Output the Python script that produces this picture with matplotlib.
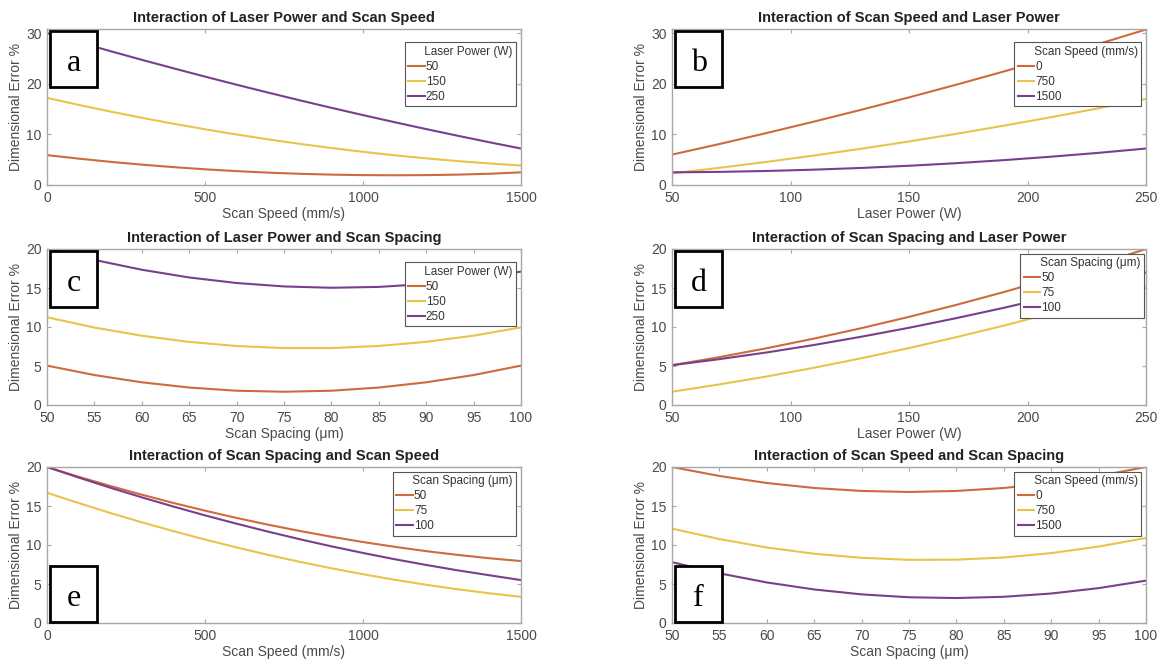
import matplotlib
matplotlib.use('Agg')
import matplotlib.pyplot as plt
from matplotlib.patches import Rectangle

plt.rcParams['font.family'] = ['Liberation Sans', 'DejaVu Sans']

# =========================
# 数据
# =========================
speed_x = [0, 100, 200, 300, 400, 500, 600, 700, 800, 900, 1000, 1100, 1200, 1300, 1400, 1500]
power_x = [50, 70, 90, 110, 130, 150, 170, 190, 210, 230, 250]
spacing_x = [50, 55, 60, 65, 70, 75, 80, 85, 90, 95, 100]

# a: 扫描速度 vs 误差, 按激光功率
a_labels = ['50', '150', '250']
a_p50 = [5.9, 5.21, 4.58, 4.02, 3.53, 3.1, 2.74, 2.44, 2.21, 2.05, 1.95, 1.92, 1.95, 2.05, 2.22, 2.5]
a_p150 = [17.2, 15.82, 14.51, 13.27, 12.10, 11.0, 9.97, 9.01, 8.12, 7.30, 6.55, 5.87, 5.26, 4.72, 4.25, 3.85]
a_p250 = [30.0, 28.2, 26.44, 24.72, 23.04, 21.4, 19.8, 18.24, 16.72, 15.24, 13.8, 12.4, 11.04, 9.72, 8.44, 7.2]

# b: 激光功率 vs 误差, 按扫描速度
b_labels = ['0', '750', '1500']
b_s0 = [6.0, 8.09, 10.27, 12.53, 14.87, 17.3, 19.81, 22.41, 25.09, 27.85, 30.7]
b_s750 = [2.3, 3.39, 4.57, 5.83, 7.17, 8.6, 10.11, 11.71, 13.39, 15.15, 17.0]
b_s1500 = [2.5, 2.59, 2.77, 3.03, 3.37, 3.8, 4.31, 4.91, 5.59, 6.35, 7.2]

# c: 扫描间距 vs 误差, 按激光功率
c_labels = ['50', '150', '250']
c_p50 = [5.05, 3.84, 2.91, 2.24, 1.83, 1.7, 1.83, 2.24, 2.91, 3.84, 5.05]
c_p150 = [11.25, 9.93, 8.88, 8.09, 7.56, 7.3, 7.30, 7.57, 8.10, 8.89, 9.95]
c_p250 = [20.1, 18.6, 17.34, 16.35, 15.64, 15.2, 15.03, 15.14, 15.52, 16.17, 17.1]

# d: 激光功率 vs 误差, 按扫描间距
d_labels = ['50', '75', '100']
d_h50 = [5.1, 6.14, 7.28, 8.52, 9.86, 11.3, 12.84, 14.48, 16.22, 18.06, 20.0]
d_h75 = [1.7, 2.64, 3.66, 4.78, 6.00, 7.3, 8.70, 10.18, 11.76, 13.44, 15.2]
d_h100 = [5.1, 5.88, 6.74, 7.70, 8.76, 9.9, 11.14, 12.46, 13.88, 15.40, 17.0]

# e: 扫描速度 vs 误差, 按扫描间距
e_labels = ['50', '75', '100']
e_h50 = [20.0, 18.75, 17.57, 16.45, 15.39, 14.40, 13.47, 12.60, 11.80, 11.06, 10.38, 9.77, 9.21, 8.73, 8.30, 7.94]
e_h75 = [16.7, 15.38, 14.11, 12.91, 11.78, 10.70, 9.69, 8.73, 7.84, 7.02, 6.25, 5.55, 4.90, 4.32, 3.81, 3.35]
e_h100 = [20.0, 18.65, 17.35, 16.11, 14.93, 13.80, 12.73, 11.71, 10.74, 9.83, 8.98, 8.18, 7.44, 6.75, 6.12, 5.5]

# f: 扫描间距 vs 误差, 按扫描速度
f_labels = ['0', '750', '1500']
f_s0 = [20.0, 18.85, 17.95, 17.31, 16.93, 16.8, 16.93, 17.31, 17.95, 18.85, 20.0]
f_s750 = [12.1, 10.76, 9.68, 8.88, 8.36, 8.1, 8.12, 8.40, 8.96, 9.80, 10.9]
f_s1500 = [7.8, 6.37, 5.20, 4.30, 3.67, 3.3, 3.20, 3.36, 3.78, 4.47, 5.43]

colors = ['#CF6A3D', '#E8C54A', '#7A3F8C']
spine_color = '#A8A8A8'
text_color = '#4A4A4A'

# =========================
# 画图
# =========================
fig = plt.figure(figsize=(11.6, 6.68), dpi=100)

left_col = 47 / 1160
right_col = 672 / 1160
ax_w = 474 / 1160
ax_h = 156 / 668
rows = [1 - 185 / 668, 1 - 405 / 668, 1 - 623 / 668]

panels = [
    # (col, row, x, series, labels, title, xlabel, legend title, ylim, xticks, letter, letter at bottom, legend anchor)
    (left_col, rows[0], speed_x, [a_p50, a_p150, a_p250], a_labels,
     'Interaction of Laser Power and Scan Speed', 'Scan Speed (mm/s)', 'Laser Power (W)',
     (0, 30.8), [0, 500, 1000, 1500], 'a', False, (0.99, 0.915)),
    (right_col, rows[0], power_x, [b_s0, b_s750, b_s1500], b_labels,
     'Interaction of Scan Speed and Laser Power', 'Laser Power (W)', 'Scan Speed (mm/s)',
     (0, 30.8), [50, 100, 150, 200, 250], 'b', False, (0.99, 0.915)),
    (left_col, rows[1], spacing_x, [c_p50, c_p150, c_p250], c_labels,
     'Interaction of Laser Power and Scan Spacing', 'Scan Spacing (\u03bcm)', 'Laser Power (W)',
     (0, 20), list(range(50, 101, 5)), 'c', False, (0.99, 0.915)),
    (right_col, rows[1], power_x, [d_h50, d_h75, d_h100], d_labels,
     'Interaction of Scan Spacing and Laser Power', 'Laser Power (W)', 'Scan Spacing (\u03bcm)',
     (0, 20), [50, 100, 150, 200, 250], 'd', False, (0.995, 0.97)),
    (left_col, rows[2], speed_x, [e_h50, e_h75, e_h100], e_labels,
     'Interaction of Scan Spacing and Scan Speed', 'Scan Speed (mm/s)', 'Scan Spacing (\u03bcm)',
     (0, 20), [0, 500, 1000, 1500], 'e', True, (0.99, 0.97)),
    (right_col, rows[2], spacing_x, [f_s0, f_s750, f_s1500], f_labels,
     'Interaction of Scan Speed and Scan Spacing', 'Scan Spacing (\u03bcm)', 'Scan Speed (mm/s)',
     (0, 20), list(range(50, 101, 5)), 'f', True, (0.99, 0.97)),
]

for (x0, y0, xs, series, labels, title, xlabel, leg_title,
     ylim, xticks, letter, letter_bottom, leg_anchor) in panels:
    ax = fig.add_axes([x0, y0, ax_w, ax_h])
    for ys, lab, col in zip(series, labels, colors):
        ax.plot(xs, ys, color=col, lw=1.5, label=lab)

    ax.set_xlim(xs[0], xs[-1])
    ax.set_ylim(*ylim)
    ax.set_xticks(xticks)
    if ylim[1] > 25:
        ax.set_yticks([0, 10, 20, 30])
    else:
        ax.set_yticks([0, 5, 10, 15, 20])

    for sp in ax.spines.values():
        sp.set_color(spine_color)
        sp.set_linewidth(1.0)
    ax.tick_params(direction='in', top=True, right=True, length=3,
                   color=spine_color, labelcolor=text_color, labelsize=10)
    ax.tick_params(axis='x', pad=4)
    ax.tick_params(axis='y', pad=4)

    ax.set_title(title, fontsize=10.5, fontweight='bold', color='#222222', pad=5)
    ax.set_xlabel(xlabel, fontsize=10, color=text_color, labelpad=2)
    ax.set_ylabel('Dimensional Error %', fontsize=10, color=text_color, labelpad=2)

    # 图例标题与条目文字对齐
    leg = ax.legend(title='     ' + leg_title, loc='upper right', bbox_to_anchor=leg_anchor,
                    fontsize=8.5, title_fontsize=8.5, frameon=True, fancybox=False,
                    framealpha=1, edgecolor='#555555', handlelength=1.4,
                    handletextpad=0.1, borderpad=0.3, labelspacing=0.25,
                    borderaxespad=0)
    leg.get_frame().set_linewidth(0.8)
    leg._legend_box.align = 'left'
    for t in leg.get_texts():
        t.set_color('#333333')
    leg.get_title().set_color('#333333')

    # 字母标记框
    if letter_bottom:
        bx, by = 0.007, 0.008
    else:
        bx, by = 0.007, 0.63
    rect = Rectangle((bx, by), 0.098, 0.36, transform=ax.transAxes,
                     facecolor='white', edgecolor='black', lw=2.0,
                     zorder=10, clip_on=False)
    ax.add_patch(rect)
    ax.text(bx + 0.049, by + 0.10, letter, transform=ax.transAxes,
            ha='center', va='baseline', fontsize=23, family='Liberation Serif',
            color='black', zorder=11)

plt.savefig('out.png', dpi=100)
plt.close()
